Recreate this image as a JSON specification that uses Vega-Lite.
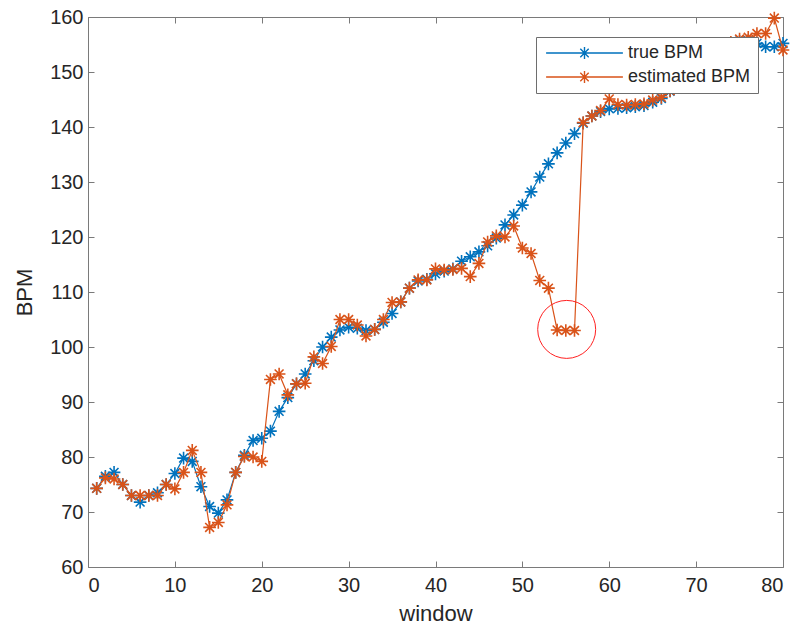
{
  "$schema": "https://vega.github.io/schema/vega-lite/v6.json",
  "width": 695,
  "height": 550,
  "autosize": {"type": "none"},
  "padding": {"left": 88, "top": 17, "right": 15, "bottom": 68},
  "background": "white",
  "config": {"view": {"stroke": "#7a7a7a", "strokeWidth": 1}, "font": "Liberation Sans"},
  "datasets": {
    "bpm": [
      {"w":1,"true BPM":74.3,"estimated BPM":74.3},
      {"w":2,"true BPM":76.5,"estimated BPM":76.2},
      {"w":3,"true BPM":77.2,"estimated BPM":76},
      {"w":4,"true BPM":75,"estimated BPM":75},
      {"w":5,"true BPM":73,"estimated BPM":73},
      {"w":6,"true BPM":71.8,"estimated BPM":73},
      {"w":7,"true BPM":73,"estimated BPM":73},
      {"w":8,"true BPM":73.5,"estimated BPM":73},
      {"w":9,"true BPM":75,"estimated BPM":75},
      {"w":10,"true BPM":77,"estimated BPM":74.2},
      {"w":11,"true BPM":79.8,"estimated BPM":77.2},
      {"w":12,"true BPM":79.2,"estimated BPM":81.2},
      {"w":13,"true BPM":74.6,"estimated BPM":77.2},
      {"w":14,"true BPM":71,"estimated BPM":67.2},
      {"w":15,"true BPM":69.8,"estimated BPM":68.1},
      {"w":16,"true BPM":72.2,"estimated BPM":71.3},
      {"w":17,"true BPM":77.2,"estimated BPM":77.2},
      {"w":18,"true BPM":80.3,"estimated BPM":80.1},
      {"w":19,"true BPM":83,"estimated BPM":80},
      {"w":20,"true BPM":83.4,"estimated BPM":79.2},
      {"w":21,"true BPM":84.7,"estimated BPM":94.1},
      {"w":22,"true BPM":88.3,"estimated BPM":95.1},
      {"w":23,"true BPM":90.8,"estimated BPM":91.3},
      {"w":24,"true BPM":93.3,"estimated BPM":93.3},
      {"w":25,"true BPM":95.1,"estimated BPM":93.4},
      {"w":26,"true BPM":97.5,"estimated BPM":98.2},
      {"w":27,"true BPM":100,"estimated BPM":97},
      {"w":28,"true BPM":101.8,"estimated BPM":100.1},
      {"w":29,"true BPM":103.1,"estimated BPM":105},
      {"w":30,"true BPM":103.6,"estimated BPM":105},
      {"w":31,"true BPM":103.4,"estimated BPM":104},
      {"w":32,"true BPM":103,"estimated BPM":102},
      {"w":33,"true BPM":103.2,"estimated BPM":103.2},
      {"w":34,"true BPM":104.5,"estimated BPM":105},
      {"w":35,"true BPM":106.1,"estimated BPM":108.1},
      {"w":36,"true BPM":108.2,"estimated BPM":108.2},
      {"w":37,"true BPM":110.7,"estimated BPM":110.7},
      {"w":38,"true BPM":112,"estimated BPM":112.2},
      {"w":39,"true BPM":112.3,"estimated BPM":112.2},
      {"w":40,"true BPM":113.3,"estimated BPM":114.2},
      {"w":41,"true BPM":113.8,"estimated BPM":114},
      {"w":42,"true BPM":114.2,"estimated BPM":114.1},
      {"w":43,"true BPM":115.6,"estimated BPM":114.3},
      {"w":44,"true BPM":116.4,"estimated BPM":112.8},
      {"w":45,"true BPM":117.3,"estimated BPM":115.2},
      {"w":46,"true BPM":118.4,"estimated BPM":119.1},
      {"w":47,"true BPM":119.8,"estimated BPM":120.2},
      {"w":48,"true BPM":122.2,"estimated BPM":120},
      {"w":49,"true BPM":124,"estimated BPM":122},
      {"w":50,"true BPM":125.8,"estimated BPM":118},
      {"w":51,"true BPM":128.2,"estimated BPM":117},
      {"w":52,"true BPM":130.9,"estimated BPM":112.1},
      {"w":53,"true BPM":133.3,"estimated BPM":110.7},
      {"w":54,"true BPM":135.3,"estimated BPM":103.1},
      {"w":55,"true BPM":137.1,"estimated BPM":103},
      {"w":56,"true BPM":138.8,"estimated BPM":103},
      {"w":57,"true BPM":140.7,"estimated BPM":140.8},
      {"w":58,"true BPM":142,"estimated BPM":142},
      {"w":59,"true BPM":142.8,"estimated BPM":143},
      {"w":60,"true BPM":143.3,"estimated BPM":145.1},
      {"w":61,"true BPM":143.4,"estimated BPM":144.1},
      {"w":62,"true BPM":143.5,"estimated BPM":144},
      {"w":63,"true BPM":143.7,"estimated BPM":144.1},
      {"w":64,"true BPM":143.9,"estimated BPM":144.2},
      {"w":65,"true BPM":144.5,"estimated BPM":144.9},
      {"w":66,"true BPM":145.2,"estimated BPM":145.4},
      {"w":67,"true BPM":146.5,"estimated BPM":146.6},
      {"w":68,"true BPM":147.6,"estimated BPM":147.8},
      {"w":69,"true BPM":148.8,"estimated BPM":149},
      {"w":70,"true BPM":150,"estimated BPM":150.2},
      {"w":71,"true BPM":151.3,"estimated BPM":151.5},
      {"w":72,"true BPM":152.5,"estimated BPM":152.6},
      {"w":73,"true BPM":153.8,"estimated BPM":154},
      {"w":74,"true BPM":155,"estimated BPM":155.4},
      {"w":75,"true BPM":155.6,"estimated BPM":156},
      {"w":76,"true BPM":155.7,"estimated BPM":156.3},
      {"w":77,"true BPM":155.2,"estimated BPM":157},
      {"w":78,"true BPM":154.6,"estimated BPM":157},
      {"w":79,"true BPM":154.6,"estimated BPM":159.8},
      {"w":80,"true BPM":155.2,"estimated BPM":154}
    ],
    "circle": [{"w": 55.1, "bpm": 103.2}]
  },
  "resolve": {"axis": {"x": "independent", "y": "independent"}},
  "layer": [
    {
      "data": {"name": "bpm"},
      "transform": [{"fold": ["true BPM", "estimated BPM"], "as": ["series", "bpm"]}, {"filter": "datum.series === 'true BPM'"}],
      "mark": {"type": "line", "stroke": "#0072BD", "strokeWidth": 1.2},
      "encoding": {
        "x": {"field": "w", "type": "quantitative", "scale": {"domain": [0, 80], "nice": false, "zero": false},
          "axis": {"orient": "bottom", "values": [0,10,20,30,40,50,60,70,80], "domain": false, "grid": false, "tickSize": -6, "tickColor": "#7a7a7a", "labelFontSize": 20, "labelColor": "#262626", "labelPadding": 14, "title": "window", "titleFontSize": 22, "titleFontWeight": "normal", "titleColor": "#262626", "titlePadding": 8}},
        "y": {"field": "bpm", "type": "quantitative", "scale": {"domain": [60, 160], "nice": false, "zero": false},
          "axis": {"orient": "left", "values": [60,70,80,90,100,110,120,130,140,150,160], "domain": false, "grid": false, "tickSize": -6, "tickColor": "#7a7a7a", "labelFontSize": 20, "labelColor": "#262626", "labelPadding": 11, "title": "BPM", "titleFontSize": 22, "titleFontWeight": "normal", "titleColor": "#262626", "titlePadding": 13}}
      }
    },
    {
      "data": {"name": "bpm"},
      "transform": [{"fold": ["true BPM", "estimated BPM"], "as": ["series", "bpm"]}, {"filter": "datum.series === 'true BPM'"}],
      "mark": {"type": "point", "shape": "M-1,0L1,0M0,-1L0,1M-0.7,-0.7L0.7,0.7M-0.7,0.7L0.7,-0.7", "size": 160, "filled": false, "strokeWidth": 1.6, "opacity": 1},
      "encoding": {
        "x": {"field": "w", "type": "quantitative", "axis": null},
        "y": {"field": "bpm", "type": "quantitative", "axis": null},
        "stroke": {"field": "series", "type": "nominal", "scale": {"domain": ["true BPM", "estimated BPM"], "range": ["#0072BD", "#D95319"]},
          "legend": {"title": null, "orient": "none", "legendX": 448, "legendY": 20, "direction": "vertical", "fillColor": "white", "strokeColor": "#6e6e6e", "padding": 7, "symbolType": "M-6.4,0L6.4,0M-1,0L1,0M0,-1L0,1M-0.7,-0.7L0.7,0.7M-0.7,0.7L0.7,-0.7", "symbolSize": 144, "symbolOffset": 32.5, "symbolStrokeWidth": 1.4, "labelFontSize": 18, "labelColor": "#262626", "labelOffset": 34.5, "rowPadding": 6, "labelLimit": 300}}
      }
    },
    {
      "data": {"name": "bpm"},
      "transform": [{"fold": ["true BPM", "estimated BPM"], "as": ["series", "bpm"]}, {"filter": "datum.series === 'estimated BPM'"}],
      "mark": {"type": "line", "stroke": "#D95319", "strokeWidth": 1.2},
      "encoding": {
        "x": {"field": "w", "type": "quantitative", "axis": null},
        "y": {"field": "bpm", "type": "quantitative", "axis": null}
      }
    },
    {
      "data": {"name": "bpm"},
      "transform": [{"fold": ["true BPM", "estimated BPM"], "as": ["series", "bpm"]}, {"filter": "datum.series === 'estimated BPM'"}],
      "mark": {"type": "point", "shape": "M-1,0L1,0M0,-1L0,1M-0.7,-0.7L0.7,0.7M-0.7,0.7L0.7,-0.7", "size": 160, "filled": false, "strokeWidth": 1.6, "opacity": 1},
      "encoding": {
        "x": {"field": "w", "type": "quantitative", "axis": null},
        "y": {"field": "bpm", "type": "quantitative", "axis": null},
        "stroke": {"field": "series", "type": "nominal", "scale": {"domain": ["true BPM", "estimated BPM"], "range": ["#0072BD", "#D95319"]},
          "legend": {"title": null, "orient": "none", "legendX": 448, "legendY": 20, "direction": "vertical", "fillColor": "white", "strokeColor": "#6e6e6e", "padding": 7, "symbolType": "M-6.4,0L6.4,0M-1,0L1,0M0,-1L0,1M-0.7,-0.7L0.7,0.7M-0.7,0.7L0.7,-0.7", "symbolSize": 144, "symbolOffset": 32.5, "symbolStrokeWidth": 1.4, "labelFontSize": 18, "labelColor": "#262626", "labelOffset": 34.5, "rowPadding": 6, "labelLimit": 300}}
      }
    },
    {
      "data": {"name": "circle"},
      "mark": {"type": "point", "shape": "circle", "size": 3360, "filled": false, "stroke": "#ff2020", "strokeWidth": 1, "opacity": 1},
      "encoding": {
        "x": {"field": "w", "type": "quantitative",
          "axis": {"orient": "top", "values": [0,10,20,30,40,50,60,70,80], "domain": false, "grid": false, "labels": false, "title": null, "tickSize": -6, "tickColor": "#7a7a7a"}},
        "y": {"field": "bpm", "type": "quantitative",
          "axis": {"orient": "right", "values": [60,70,80,90,100,110,120,130,140,150,160], "domain": false, "grid": false, "labels": false, "title": null, "tickSize": -6, "tickColor": "#7a7a7a"}}
      }
    }
  ]
}
